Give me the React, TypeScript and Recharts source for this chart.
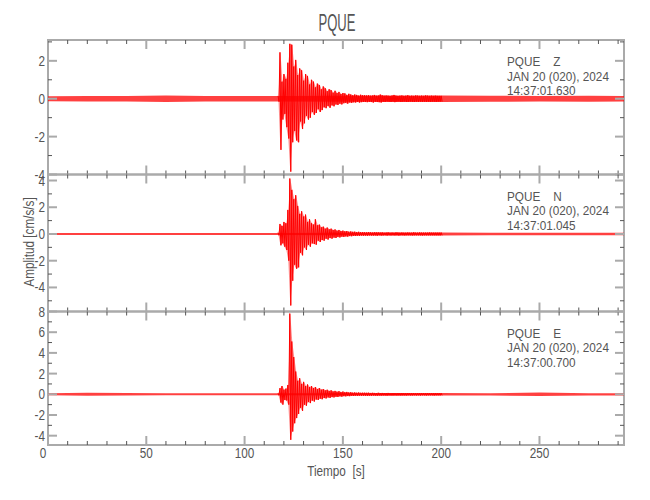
import React from 'react';
import { ComposedChart, Line, Area, XAxis, YAxis, ReferenceArea } from 'recharts';

const FONT = "'Liberation Sans', Arial, sans-serif";
const SQUEEZE = 0.84; // plot font is a narrow stroke font
const TEXT = '#555555';
const FRAME = '#aaaaaa';
const MINOR = '#555555';
const RED = '#ff0000';

// time axis (s)
const timeDomain = [0, 293];
const timeTicks = [0, 10, 20, 30, 40, 50, 60, 70, 80, 90, 100, 110, 120, 130, 140, 150, 160, 170, 180, 190, 200, 210, 220, 230, 240, 250, 260, 270, 280, 290];

// background noise half-width per component, read at these times
const noiseTime = [0, 20, 40, 60, 80, 100, 117, 200, 225, 250, 275, 293];
const zNoise = [0.13, 0.14, 0.14, 0.17, 0.14, 0.15, 0.15, 0.17, 0.16, 0.15, 0.16, 0.15];
const nNoise = [0.07, 0.08, 0.08, 0.08, 0.07, 0.08, 0.08, 0.11, 0.09, 0.09, 0.09, 0.09];
const eNoise = [0.1, 0.15, 0.12, 0.1, 0.1, 0.1, 0.1, 0.12, 0.11, 0.17, 0.11, 0.11];

// event: max / min of each second, from 117 s to 200 s
const burstStart = 117;

const zHigh = [
  0.15, 2.45, 0.9, 1.3, 1.05, 1.9, 2.9, 2.85, 1.7, 2.05,
  1.25, 1.6, 1.5, 0.95, 1.3, 1.2, 0.75, 1.0, 0.9, 0.6,
  0.8, 0.72, 0.5, 0.65, 0.55, 0.4, 0.5, 0.45, 0.32, 0.42,
  0.3, 0.36, 0.25, 0.3, 0.28, 0.2, 0.26, 0.22, 0.18, 0.22,
  0.2, 0.16, 0.21, 0.18,
  0.18, 0.17, 0.18, 0.16, 0.17, 0.2, 0.16, 0.17, 0.22, 0.18,
  0.16, 0.17, 0.16, 0.15, 0.17, 0.2, 0.16, 0.15, 0.16, 0.17,
  0.15, 0.16, 0.18, 0.15, 0.16, 0.15, 0.17, 0.16, 0.15, 0.16,
  0.15, 0.17, 0.16, 0.15, 0.16, 0.15, 0.16, 0.15, 0.15, 0.15,
];
const zLow = [
  -0.15, -2.7, -1.1, -0.8, -1.5, -2.1, -3.85, -2.3, -1.7, -2.2,
  -2.3, -1.2, -1.6, -1.3, -0.9, -1.1, -1.0, -0.7, -0.85, -0.75,
  -0.55, -0.7, -0.6, -0.45, -0.5, -0.38, -0.48, -0.35, -0.4, -0.3,
  -0.33, -0.26, -0.3, -0.24, -0.22, -0.26, -0.2, -0.22, -0.19, -0.2,
  -0.17, -0.2, -0.18, -0.17,
  -0.17, -0.18, -0.16, -0.17, -0.2, -0.16, -0.17, -0.18, -0.2, -0.16,
  -0.17, -0.15, -0.16, -0.17, -0.15, -0.18, -0.16, -0.15, -0.17, -0.16,
  -0.15, -0.17, -0.16, -0.15, -0.16, -0.17, -0.15, -0.16, -0.15, -0.16,
  -0.15, -0.16, -0.15, -0.16, -0.15, -0.15, -0.16, -0.15, -0.15, -0.15,
];

const nHigh = [
  0.1, 0.75, 0.6, 0.9, 0.8, 1.8, 4.15, 3.3, 2.6, 2.9,
  2.1, 1.5, 1.7, 1.3, 1.45, 0.9, 1.1, 0.8, 0.7, 1.1,
  0.65, 0.7, 0.5, 0.55, 0.4, 0.48, 0.35, 0.4, 0.3, 0.34,
  0.25, 0.3, 0.22, 0.25, 0.2, 0.22, 0.17, 0.19, 0.16, 0.17,
  0.14, 0.16, 0.13, 0.14,
  0.13, 0.12, 0.14, 0.12, 0.11, 0.13, 0.12, 0.12, 0.11, 0.12,
  0.1, 0.11, 0.12, 0.1, 0.11, 0.1, 0.12, 0.11, 0.1, 0.11,
  0.1, 0.1, 0.11, 0.1, 0.1, 0.12, 0.1, 0.1, 0.11, 0.1,
  0.1, 0.1, 0.1, 0.11, 0.1, 0.1, 0.1, 0.1, 0.1, 0.1,
];
const nLow = [
  -0.1, -0.85, -0.7, -0.95, -1.2, -2.0, -5.35, -3.5, -2.3, -2.6,
  -2.5, -1.4, -1.6, -1.0, -1.2, -0.8, -0.95, -0.7, -0.75, -0.8,
  -0.5, -0.6, -0.45, -0.5, -0.35, -0.42, -0.3, -0.35, -0.27, -0.3,
  -0.22, -0.26, -0.2, -0.22, -0.18, -0.2, -0.16, -0.17, -0.14, -0.15,
  -0.13, -0.14, -0.12, -0.13,
  -0.12, -0.13, -0.11, -0.12, -0.12, -0.11, -0.13, -0.1, -0.12, -0.11,
  -0.1, -0.12, -0.1, -0.11, -0.1, -0.11, -0.1, -0.12, -0.1, -0.1,
  -0.11, -0.1, -0.1, -0.1, -0.11, -0.1, -0.1, -0.1, -0.1, -0.11,
  -0.1, -0.1, -0.1, -0.1, -0.1, -0.1, -0.1, -0.1, -0.1, -0.1,
];

const eHigh = [
  0.1, 0.6, 0.8, 0.45, 0.55, 0.9, 7.8, 5.1, 3.6, 2.2,
  1.3, 1.55, 1.0, 1.2, 0.8, 0.95, 0.7, 0.8, 0.6, 0.7,
  0.5, 0.6, 0.45, 0.5, 0.38, 0.44, 0.33, 0.38, 0.28, 0.33,
  0.25, 0.3, 0.22, 0.26, 0.2, 0.23, 0.18, 0.2, 0.16, 0.18,
  0.15, 0.17, 0.14, 0.15,
  0.15, 0.14, 0.15, 0.13, 0.14, 0.13, 0.12, 0.14, 0.12, 0.13,
  0.12, 0.12, 0.13, 0.11, 0.12, 0.12, 0.11, 0.12, 0.11, 0.12,
  0.11, 0.11, 0.12, 0.1, 0.11, 0.11, 0.1, 0.11, 0.1, 0.11,
  0.1, 0.1, 0.11, 0.1, 0.1, 0.1, 0.11, 0.1, 0.1, 0.1,
];
const eLow = [
  -0.1, -0.8, -1.0, -0.55, -0.6, -1.0, -4.4, -3.6, -2.8, -2.3,
  -1.9, -1.3, -1.6, -1.0, -1.1, -0.75, -0.85, -0.6, -0.7, -0.5,
  -0.55, -0.42, -0.48, -0.36, -0.4, -0.3, -0.35, -0.27, -0.3, -0.24,
  -0.26, -0.2, -0.23, -0.18, -0.2, -0.17, -0.18, -0.15, -0.16, -0.14,
  -0.15, -0.13, -0.14, -0.13,
  -0.14, -0.15, -0.13, -0.14, -0.12, -0.13, -0.14, -0.12, -0.13, -0.12,
  -0.12, -0.13, -0.11, -0.12, -0.12, -0.11, -0.12, -0.11, -0.12, -0.11,
  -0.11, -0.12, -0.1, -0.11, -0.11, -0.1, -0.11, -0.1, -0.11, -0.1,
  -0.1, -0.11, -0.1, -0.1, -0.1, -0.11, -0.1, -0.1, -0.1, -0.1,
];

const zTicks = [-4, -3, -2, -1, 0, 1, 2, 3];
const nTicks = [-5, -4, -3, -2, -1, 0, 1, 2, 3, 4];
const eTicks = [-4, -3, -2, -1, 0, 1, 2, 3, 4, 5, 6, 7, 8];

const PLOT_LEFT = 48;
const PLOT_RIGHT = 624;

const panels = [
  { id: 'Z', top: 40, bottom: 174.5, domain: [-4, 3.1], ticks: zTicks, noise: zNoise, high: zHigh, low: zLow, time: '14:37:01.630' },
  { id: 'N', top: 174.5, bottom: 311.5, domain: [-5.8, 4.45], ticks: nTicks, noise: nNoise, high: nHigh, low: nLow, time: '14:37:01.045' },
  { id: 'E', top: 311.5, bottom: 445, domain: [-4.9, 8], ticks: eTicks, noise: eNoise, high: eHigh, low: eLow, time: '14:37:00.700' },
];

function buildNoise(amp: number[]) {
  return noiseTime.map((t, i) => ({ t, band: [-amp[i], amp[i]] }));
}

function buildEnvelope(high: number[], low: number[]) {
  return high.map((h, i) => ({ t: burstStart + i + 0.25, band: [low[i], h] }));
}

function buildTrace(high: number[], low: number[]) {
  const out: { t: number; v: number }[] = [];
  high.forEach((h, i) => {
    out.push({ t: burstStart + i, v: h });
    out.push({ t: burstStart + i + 0.5, v: low[i] });
  });
  return out;
}

function Txt({ x, y, anchor = 'start', size = 14, sx = SQUEEZE, children, rotate = 0 }: any) {
  return (
    <g transform={`translate(${x} ${y}) rotate(${rotate}) scale(${sx} 1)`}>
      <text x={0} y={0} textAnchor={anchor} fontSize={size} fontFamily={FONT} fill={TEXT} style={{ whiteSpace: 'pre' }}>
        {children}
      </text>
    </g>
  );
}

function TimeTick(props: any) {
  const { x, y, payload, plotH, showLabel } = props;
  const major = payload.value % 50 === 0;
  const len = major ? 9 : 4;
  const stroke = major ? FRAME : MINOR;
  const sw = major ? 2 : 1;
  return (
    <g>
      <line x1={x} y1={y} x2={x} y2={y - len} stroke={stroke} strokeWidth={sw} />
      <line x1={x} y1={y - plotH} x2={x} y2={y - plotH + len} stroke={stroke} strokeWidth={sw} />
      {showLabel && major && (
        <Txt x={payload.value === 0 ? x - 5 : x} y={y + 12.5} anchor="middle">
          {String(payload.value)}
        </Txt>
      )}
    </g>
  );
}

function AmpTick(props: any) {
  const { x, y, payload, plotW } = props;
  const major = payload.value % 2 === 0;
  const len = major ? 9 : 4;
  const stroke = major ? FRAME : MINOR;
  const sw = major ? 2 : 1;
  return (
    <g>
      <line x1={x} y1={y} x2={x + len} y2={y} stroke={stroke} strokeWidth={sw} />
      <line x1={x + plotW} y1={y} x2={x + plotW - len} y2={y} stroke={stroke} strokeWidth={sw} />
      {major && (
        <Txt x={x - 3} y={y + 5} anchor="end">
          {String(payload.value)}
        </Txt>
      )}
    </g>
  );
}

function Panel({ p, last }: { p: any; last: boolean }) {
  const plotH = p.bottom - p.top;
  const plotW = PLOT_RIGHT - PLOT_LEFT;
  return (
    <div style={{ position: 'absolute', left: 0, top: 0 }}>
      <ComposedChart
        width={650}
        height={500}
        margin={{ top: p.top, bottom: 500 - p.bottom - 1, left: PLOT_LEFT - 1, right: 650 - PLOT_RIGHT }}
      >
        <XAxis
          dataKey="t"
          type="number"
          domain={timeDomain}
          ticks={timeTicks}
          interval={0}
          height={1}
          axisLine={false}
          tickLine={false}
          tickSize={0}
          tickMargin={0}
          allowDataOverflow
          tick={(tp: any) => <TimeTick {...tp} plotH={plotH} showLabel={last} />}
        />
        <YAxis
          type="number"
          domain={p.domain}
          ticks={p.ticks}
          interval={0}
          width={1}
          axisLine={false}
          tickLine={false}
          tickSize={0}
          tickMargin={0}
          allowDataOverflow
          tick={(tp: any) => <AmpTick {...tp} plotW={plotW} />}
        />
        <ReferenceArea
          x1={timeDomain[0]}
          x2={timeDomain[1]}
          y1={p.domain[0]}
          y2={p.domain[1]}
          fill="none"
          stroke={FRAME}
          strokeWidth={2}
        />
        <Area
          data={buildNoise(p.noise)}
          dataKey="band"
          type="linear"
          stroke="none"
          fill={RED}
          fillOpacity={0.75}
          isAnimationActive={false}
        />
        <Area
          data={buildEnvelope(p.high, p.low)}
          dataKey="band"
          type="linear"
          stroke="none"
          fill={RED}
          fillOpacity={0.45}
          isAnimationActive={false}
        />
        <Line
          data={buildTrace(p.high, p.low)}
          dataKey="v"
          type="linear"
          stroke={RED}
          strokeWidth={1}
          dot={false}
          isAnimationActive={false}
        />
      </ComposedChart>
    </div>
  );
}

export default function App() {
  return (
    <div style={{ position: 'absolute', left: 0, top: 0, width: 650, height: 500, background: '#fff' }}>
      {panels.map((p, i) => (
        <Panel key={p.id} p={p} last={i === panels.length - 1} />
      ))}
      <svg width={650} height={500} style={{ position: 'absolute', left: 0, top: 0, pointerEvents: 'none' }}>
        <text x={337} y={31} textAnchor="middle" fontSize={23} fontFamily={FONT} fill={TEXT} textLength={37} lengthAdjust="spacingAndGlyphs">
          PQUE
        </text>
        {panels.map((p) => (
          <g key={p.id}>
            <Txt x={507} y={p.top + 26} size={12} sx={0.98}>{`PQUE    ${p.id}`}</Txt>
            <Txt x={507} y={p.top + 40.5} size={12} sx={0.98}>JAN 20 (020), 2024</Txt>
            <Txt x={507} y={p.top + 55} size={12} sx={0.98}>{p.time}</Txt>
          </g>
        ))}
        <Txt x={34} y={242} anchor="middle" rotate={-90}>Amplitud [cm/s/s]</Txt>
        <Txt x={336} y={476} anchor="middle">{'Tiempo  [s]'}</Txt>
      </svg>
    </div>
  );
}
